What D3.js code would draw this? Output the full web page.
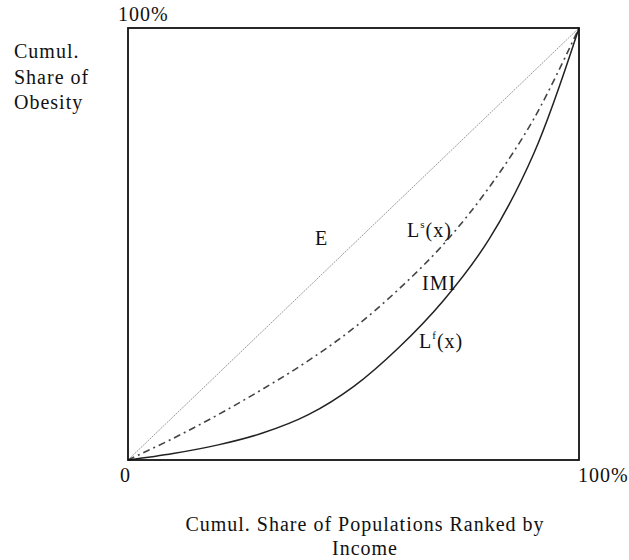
<!DOCTYPE html>
<html>
<head>
<meta charset="utf-8">
<script src="https://cdn.jsdelivr.net/npm/d3@7"></script>
<style>
  body { margin: 0; background: #fff; }
  text { font-family: "Liberation Serif", "Times New Roman", serif; fill: #111; letter-spacing: 1px; }
</style>
</head>
<body>
<script>
var width = 629,
    height = 560;

// cumulative population share (x) and cumulative obesity shares
var popShare  = [0, 0.1, 0.2, 0.3, 0.4, 0.5, 0.6, 0.7, 0.8, 0.9, 1.0];
var lorenzS   = [0, 0.05, 0.105, 0.165, 0.23, 0.305, 0.395, 0.50, 0.63, 0.79, 1.0];   // L^s(x)
var lorenzF   = [0, 0.015, 0.035, 0.063, 0.105, 0.17, 0.26, 0.37, 0.51, 0.71, 1.0];   // L^f(x)
var equality  = [0, 1];

var x = d3.scaleLinear().domain([0, 1]).range([128, 579]);
var y = d3.scaleLinear().domain([0, 1]).range([460, 28]);

var svg = d3.select("body").append("svg")
    .attr("width", width)
    .attr("height", height);

var line = d3.line()
    .x(function(d) { return x(d[0]); })
    .y(function(d) { return y(d[1]); })
    .curve(d3.curveCatmullRom.alpha(0.5));

function pairs(ys, xs) {
  return ys.map(function(v, i) { return [xs[i], v]; });
}

// equality line E
svg.append("path")
    .datum(pairs(equality, [0, 1]))
    .attr("d", line)
    .attr("fill", "none")
    .attr("stroke", "#999")
    .attr("stroke-width", 1)
    .attr("stroke-dasharray", "2,1");

// L^s(x) dash-dot
svg.append("path")
    .datum(pairs(lorenzS, popShare))
    .attr("d", line)
    .attr("fill", "none")
    .attr("stroke", "#444")
    .attr("stroke-width", 1.6)
    .attr("stroke-dasharray", "7,4,2,4");

// L^f(x) solid
svg.append("path")
    .datum(pairs(lorenzF, popShare))
    .attr("d", line)
    .attr("fill", "none")
    .attr("stroke", "#222")
    .attr("stroke-width", 1.5);

// frame
svg.append("rect")
    .attr("x", x(0))
    .attr("y", y(1))
    .attr("width", x(1) - x(0))
    .attr("height", y(0) - y(1))
    .attr("fill", "none")
    .attr("stroke", "#111")
    .attr("stroke-width", 1.8);

var fs = 20;

function label(tx, ty, str, anchor) {
  return svg.append("text")
      .attr("x", tx)
      .attr("y", ty)
      .attr("text-anchor", anchor || "start")
      .style("font-size", fs + "px")
      .text(str);
}

// corner ticks
label(118, 21, "100%");
label(120, 482, "0");
label(578, 482, "100%");

// y title
label(14, 58, "Cumul.");
label(14, 84, "Share of");
label(14, 109, "Obesity");

// x title
label(365, 531, "Cumul. Share of Populations Ranked by", "middle");
label(365, 555, "Income", "middle");

// curve labels
label(315, 245, "E");

var ls = svg.append("text").attr("x", 407).attr("y", 237).style("font-size", fs + "px");
ls.append("tspan").text("L");
ls.append("tspan").attr("dy", -9).style("font-size", "11px").text("s");
ls.append("tspan").attr("dy", 9).text("(x)");

label(422, 290, "IMI");

var lf = svg.append("text").attr("x", 419).attr("y", 348).style("font-size", fs + "px");
lf.append("tspan").text("L");
lf.append("tspan").attr("dy", -9).style("font-size", "11px").text("f");
lf.append("tspan").attr("dy", 9).text("(x)");
</script>
</body>
</html>
